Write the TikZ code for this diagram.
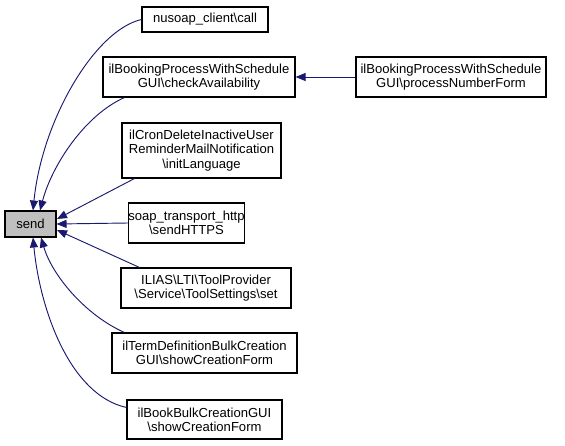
\documentclass[tikz,border=0pt]{standalone}
\usepackage{fontspec}
\setmainfont{Liberation Sans}
\usetikzlibrary{arrows.meta}
\definecolor{edgeblue}{HTML}{191970}
\definecolor{selgray}{HTML}{BFBFBF}
\begin{document}
\begin{tikzpicture}[x=0.75pt,y=-0.75pt,
  fn/.style={draw=black,fill=white,line width=0.8pt,align=center,inner sep=0pt,
    font=\fontsize{9.8pt}{10.6pt}\selectfont},
  edge/.style={draw=edgeblue,line width=0.7pt,-{Stealth[length=7.5pt,width=6pt,inset=0pt]}}]
\useasboundingbox (0,0) rectangle (565,446);
\node[fn,fill=selgray,minimum width=51*0.75pt,minimum height=26*0.75pt] (send) at (30.5,224) {send};
\node[fn,minimum width=126*0.75pt,minimum height=25*0.75pt] (call) at (205,19.5) {nusoap\_client\textbackslash call};
\node[fn,minimum width=192*0.75pt,minimum height=40*0.75pt] (check) at (199,77) {ilBookingProcessWithSchedule\\GUI\textbackslash checkAvailability};
\node[fn,minimum width=190*0.75pt,minimum height=40*0.75pt] (proc) at (451,77) {ilBookingProcessWithSchedule\\GUI\textbackslash processNumberForm};
\node[fn,minimum width=159*0.75pt,minimum height=55*0.75pt] (init) at (201.5,150.5) {ilCronDeleteInactiveUser\\ReminderMailNotification\\\textbackslash initLanguage};
\node[fn,minimum width=99*0.75pt,minimum height=40*0.75pt] (https) at (186.5,223) {soap\_transport\_http\\\textbackslash sendHTTPS};
\node[fn,minimum width=170*0.75pt,minimum height=40*0.75pt] (tool) at (206,288) {ILIAS\textbackslash LTI\textbackslash ToolProvider\\\textbackslash Service\textbackslash ToolSettings\textbackslash set};
\node[fn,minimum width=185*0.75pt,minimum height=40*0.75pt] (term) at (204.5,353) {ilTermDefinitionBulkCreation\\GUI\textbackslash showCreationForm};
\node[fn,minimum width=155*0.75pt,minimum height=39*0.75pt] (book) at (204.5,419.5) {ilBookBulkCreationGUI\\\textbackslash showCreationForm};
\coordinate (sT1) at (33,210.5);
\coordinate (sT2) at (40,210.5);
\coordinate (sB1) at (33,237.5);
\coordinate (sB2) at (41,237.5);
\path[edge] (proc.west) -- (check.east);
\path[edge] (call.west) .. controls (95,30) and (42,120) .. (sT1);
\path[edge] (check.south west) ++(22,0) .. controls (85,115) and (52,165) .. (sT2);
\path[edge] (init.south west) ++(13,0) -- (57,219);
\path[edge] (https.west) -- (send.east);
\path[edge] (tool.north west) ++(19,0) -- (57,230);
\path[edge] (term.north west) ++(13,0) .. controls (85,315) and (52,275) .. (sB2);
\path[edge] (book.west) ++(0,-12) .. controls (70,395) and (40,310) .. (sB1);
\end{tikzpicture}
\end{document}
